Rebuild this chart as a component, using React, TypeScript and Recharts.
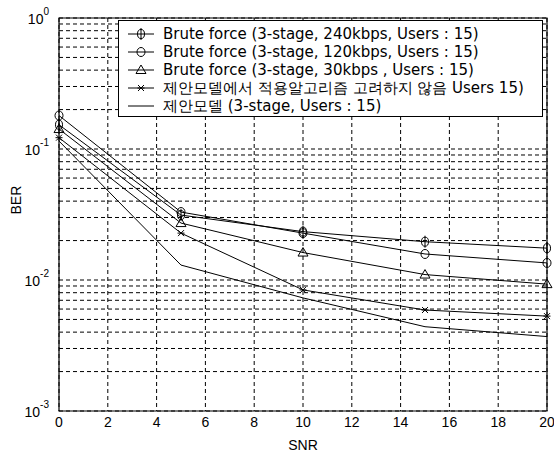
import React from 'react';
import { LineChart, Line, XAxis, YAxis, CartesianGrid, ReferenceArea } from 'recharts';

const snr = [0, 5, 10, 15, 20];
const bf240 = [0.153, 0.0313, 0.0234, 0.0196, 0.0175];
const bf120 = [0.18, 0.033, 0.0228, 0.0158, 0.0135];
const bf30 = [0.142, 0.0272, 0.0162, 0.011, 0.0093];
const noAdapt = [0.122, 0.0228, 0.0084, 0.0059, 0.0053];
const proposed = [0.115, 0.013, 0.0073, 0.0044, 0.0037];

const xTicks = [0, 2, 4, 6, 8, 10, 12, 14, 16, 18, 20];
const decades = [0.001, 0.01, 0.1, 1];
const decadeLabels = ['-3', '-2', '-1', '0'];
const mantissas = [1, 2, 3, 4, 5, 6, 7, 8, 9];

const seriesNames = [
  'Brute force (3-stage, 240kbps, Users : 15)',
  'Brute force (3-stage, 120kbps, Users : 15)',
  'Brute force (3-stage, 30kbps , Users : 15)',
  '제안모델에서 적용알고리즘 고려하지 않음 Users  15)',
  '제안모델 (3-stage, Users : 15)',
];

const yTicks: number[] = [];
decades.slice(0, 3).forEach((d) => mantissas.forEach((m) => yTicks.push(m * d)));
yTicks.push(1);

const data = snr.map((s, i) => ({
  snr: s,
  a: bf240[i],
  b: bf120[i],
  c: bf30[i],
  d: noAdapt[i],
  e: proposed[i],
}));

const FONT = '"Liberation Sans", Arial, sans-serif';

const markerShape = (kind: string, cx: number, cy: number) => {
  if (kind === 'phi')
    return (
      <g>
        <ellipse cx={cx} cy={cy} rx={3.5} ry={4.5} fill="none" stroke="#000" />
        <line x1={cx} y1={cy - 6} x2={cx} y2={cy + 6} stroke="#000" />
      </g>
    );
  if (kind === 'circle') return <ellipse cx={cx} cy={cy} rx={4} ry={4.5} fill="none" stroke="#000" />;
  if (kind === 'tri')
    return <polygon points={`${cx},${cy - 5} ${cx - 5},${cy + 3.5} ${cx + 5},${cy + 3.5}`} fill="none" stroke="#000" />;
  if (kind === 'x')
    return (
      <g stroke="#000">
        <line x1={cx - 3} y1={cy - 3} x2={cx + 3} y2={cy + 3} />
        <line x1={cx - 3} y1={cy + 3} x2={cx + 3} y2={cy - 3} />
        <line x1={cx - 3.5} y1={cy} x2={cx + 3.5} y2={cy} />
      </g>
    );
  return null;
};

const makeDot = (kind: string) => (props: any) => (
  <g key={`${kind}-${props.index}`}>{markerShape(kind, props.cx, props.cy)}</g>
);

const series = [
  { key: 'a', kind: 'phi' },
  { key: 'b', kind: 'circle' },
  { key: 'c', kind: 'tri' },
  { key: 'd', kind: 'x' },
  { key: 'e', kind: 'none' },
];

const YTick = (props: any) => {
  const { x, y, payload } = props;
  const idx = decades.findIndex((d) => Math.abs(d - payload.value) < d * 1e-6);
  if (idx < 0) return null;
  return (
    <text x={x - 2} y={y + 6} textAnchor="end" fontSize={14} fontFamily={FONT} fill="#000">
      10
      <tspan dy={-9} fontSize={10}>
        {decadeLabels[idx]}
      </tspan>
    </text>
  );
};

const LegendBox = () => (
  <div
    style={{
      position: 'absolute',
      left: 118,
      top: 20,
      width: 425,
      height: 97,
      border: '1px solid #000',
      background: '#fff',
      boxSizing: 'border-box',
      padding: '4px 0 0 8px',
      fontFamily: '"DejaVu Sans", sans-serif',
      fontSize: 15,
      lineHeight: '18px',
    }}
  >
    {series.map((s, i) => (
      <div key={s.key} style={{ display: 'flex', alignItems: 'center', whiteSpace: 'nowrap', height: 18 }}>
        <svg width={28} height={14} style={{ marginRight: 8 }}>
          <line x1={1} y1={7} x2={27} y2={7} stroke="#000" />
          {markerShape(s.kind, 14, 7)}
        </svg>
        <span>{seriesNames[i]}</span>
      </div>
    ))}
  </div>
);

export default function App() {
  return (
    <div style={{ position: 'absolute', left: 0, top: 0, width: 554, height: 455, background: '#fff' }}>
      <LineChart width={554} height={455} data={data} margin={{ top: 18, right: 7, left: 0, bottom: 0 }}>
        <CartesianGrid stroke="#000" strokeDasharray="4 3" horizontalValues={yTicks} verticalValues={xTicks} />
        <XAxis
          dataKey="snr"
          type="number"
          domain={[0, 20]}
          ticks={xTicks}
          tickLine={false}
          axisLine={false}
          height={44}
          tick={{ fill: '#000', fontSize: 14, fontFamily: FONT }}
          tickMargin={0}
          label={{ value: 'SNR', position: 'insideBottom', offset: 5, fill: '#000', fontSize: 14, fontFamily: FONT }}
        />
        <YAxis
          scale="log"
          domain={[0.001, 1]}
          allowDataOverflow
          ticks={yTicks}
          interval={0}
          tickLine={false}
          axisLine={false}
          width={59}
          tick={<YTick />}
          label={{ value: 'BER', angle: -90, position: 'insideLeft', offset: 16, fill: '#000', fontSize: 14, fontFamily: FONT }}
        />
        <ReferenceArea x1={0} x2={20} y1={0.001} y2={1} fill="none" stroke="#000" strokeWidth={1.2} ifOverflow="visible" />
        {series.map((s, i) => (
          <Line
            key={s.key}
            dataKey={s.key}
            name={seriesNames[i]}
            stroke="#000"
            strokeWidth={1}
            dot={s.kind === 'none' ? false : makeDot(s.kind)}
            activeDot={false}
            isAnimationActive={false}
          />
        ))}
      </LineChart>
      <LegendBox />
    </div>
  );
}
